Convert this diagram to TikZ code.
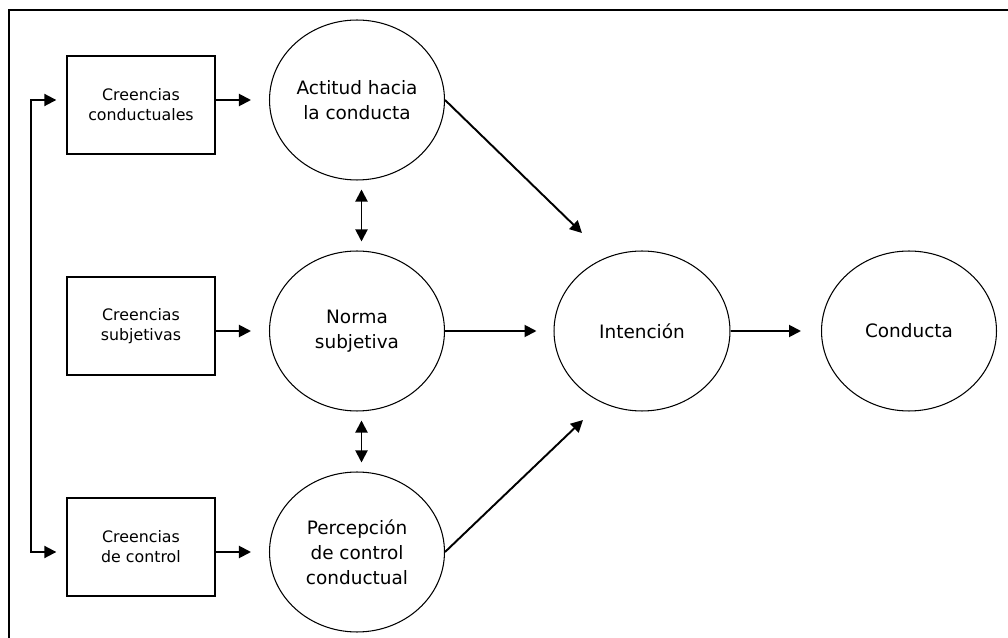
\documentclass[tikz,border=0pt]{standalone}
\usepackage{fontspec}
\setmainfont{DejaVu Sans}
\usetikzlibrary{arrows.meta,shapes.geometric}

\begin{document}
\begin{tikzpicture}[x=0.02cm, y=-0.02cm,
    creencia/.style={rectangle, draw, line width=0.8pt, minimum width=2.96cm, minimum height=1.96cm, align=center, font=\fontsize{9}{11.3}\selectfont},
    factor/.style={ellipse, draw, line width=0.6pt, minimum width=3.5cm, minimum height=3.2cm, inner sep=0pt, align=center, font=\fontsize{10.5}{14.2}\selectfont},
    flecha/.style={line width=1.1pt, -{Triangle[length=0.24cm, width=0.24cm]}},
    doble/.style={line width=1.1pt, {Triangle[length=0.24cm, width=0.24cm]}-{Triangle[length=0.24cm, width=0.24cm]}}]
    \useasboundingbox (0,0) rectangle (1008,638);
    % marco
    \draw[line width=1.1pt] (1008,10) -- (9,10) -- (9,638);

    \node[creencia] (cc) at (141,105) {Creencias\\conductuales};
    \node[creencia] (cs) at (141,326) {Creencias\\subjetivas};
    \node[creencia] (ctl) at (141,547) {Creencias\\de control};

    \node[factor] (act) at (357,100) {Actitud hacia\\la conducta};
    \node[factor] (nor) at (357,331) {Norma\\subjetiva};
    \node[factor] (per) at (357,552) {Percepción\\de control\\conductual};
    \node[factor, minimum width=3.52cm] (int) at (642,331) {Intención};
    \node[factor] (con) at (909,331) {Conducta};

    \coordinate (fb) at (31,330);
    \coordinate (tipA) at (582,233);
    \coordinate (tipP) at (583,420);

    % flechas
    \draw[flecha] (cc.east |- act) -- ([xshift=-0.36cm]act.west);
    \draw[flecha] (cs.east |- nor) -- ([xshift=-0.36cm]nor.west);
    \draw[flecha] (ctl.east |- per) -- ([xshift=-0.36cm]per.west);
    \draw[doble, shorten <=0.2cm, shorten >=0.2cm] (cc.west |- act) -| (fb) |- (ctl.west |- per);
    \draw[doble, shorten <=0.18cm, shorten >=0.18cm] ([xshift=0.09cm]act.south) -- ([xshift=0.09cm]nor.north);
    \draw[doble, shorten <=0.18cm, shorten >=0.18cm] ([xshift=0.09cm]nor.south) -- ([xshift=0.09cm]per.north);
    \draw[flecha] (act.east) -- (tipA);
    \draw[flecha] (per.east) -- (tipP);
    \draw[flecha, shorten >=0.34cm] (nor.east) -- (int.west);
    \draw[flecha, shorten >=0.4cm] (int.east) -- (con.west);
\end{tikzpicture}
\end{document}
